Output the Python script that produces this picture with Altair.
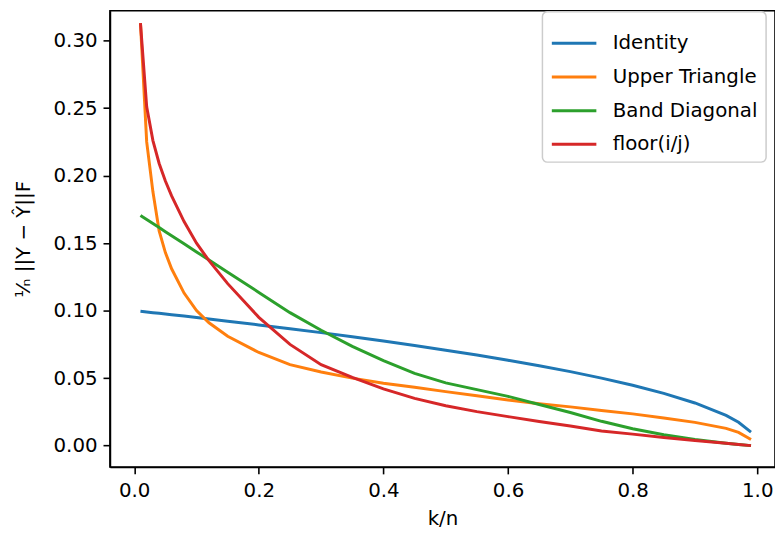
import altair as alt
import pandas as pd

k_over_n = [0.01, 0.02, 0.03, 0.04, 0.05, 0.06, 0.08, 0.10, 0.12, 0.15, 0.20, 0.25,
            0.30, 0.35, 0.40, 0.45, 0.50, 0.55, 0.60, 0.65, 0.70, 0.75, 0.80, 0.85,
            0.90, 0.95, 0.97, 0.99]

identity = [0.0995, 0.0990, 0.0985, 0.0980, 0.0975, 0.0970, 0.0960, 0.0949, 0.0938,
            0.0922, 0.0894, 0.0866, 0.0837, 0.0806, 0.0775, 0.0742, 0.0707, 0.0671,
            0.0632, 0.0592, 0.0548, 0.0500, 0.0447, 0.0387, 0.0316, 0.0224, 0.0173,
            0.0100]

upper_triangle = [0.313, 0.225, 0.188, 0.159, 0.143, 0.131, 0.113, 0.100, 0.091,
                  0.081, 0.069, 0.060, 0.0545, 0.050, 0.0462, 0.0432, 0.040, 0.037,
                  0.0338, 0.031, 0.0287, 0.026, 0.0235, 0.0205, 0.0172, 0.0128,
                  0.0098, 0.0045]

band_diagonal = [0.1705, 0.1675, 0.1645, 0.1615, 0.1585, 0.1555, 0.1495, 0.1435,
                 0.1375, 0.1285, 0.1135, 0.0985, 0.0855, 0.0735, 0.063, 0.0535,
                 0.0465, 0.0415, 0.0365, 0.0305, 0.0245, 0.018, 0.0125, 0.008,
                 0.0045, 0.0018, 0.0008, 0.0]

floor_ij = [0.313, 0.251, 0.226, 0.209, 0.196, 0.185, 0.166, 0.150, 0.137, 0.120,
            0.095, 0.075, 0.060, 0.0505, 0.042, 0.035, 0.0295, 0.0252, 0.0215,
            0.0178, 0.0145, 0.0108, 0.0085, 0.006, 0.0038, 0.0017, 0.0009, 0.0]

series_names = ["Identity", "Upper Triangle", "Band Diagonal", "floor(i/j)"]
series_colors = ["#1f77b4", "#ff7f0e", "#2ca02c", "#d62728"]
series_values = [identity, upper_triangle, band_diagonal, floor_ij]

rows = []
for name, vals in zip(series_names, series_values):
    for x, y in zip(k_over_n, vals):
        rows.append({"k/n": x, "err": y, "method": name})
df = pd.DataFrame(rows)

FONT = "DejaVu Sans"

chart = alt.Chart(df).mark_line(strokeWidth=3, clip=True).encode(
    x=alt.X("k/n:Q",
            scale=alt.Scale(domain=[-0.039, 1.0285], nice=False, zero=False),
            axis=alt.Axis(title="k/n", values=[0.0, 0.2, 0.4, 0.6, 0.8, 1.0],
                          format=".1f", titlePadding=8, labelPadding=7)),
    y=alt.Y("err:Q",
            scale=alt.Scale(domain=[-0.0158, 0.3222], nice=False, zero=False),
            axis=alt.Axis(title="¹⁄ₙ ||Y − Ŷ||F",
                          values=[0.0, 0.05, 0.10, 0.15, 0.20, 0.25, 0.30],
                          format=".2f", titlePadding=20, labelPadding=6)),
    color=alt.Color("method:N",
                    scale=alt.Scale(domain=series_names, range=series_colors),
                    sort=series_names,
                    legend=alt.Legend(title=None, orient="none",
                                      legendX=437, legendY=1)),
    order=alt.value(0),
).properties(
    width=672,
    height=461,
    autosize=alt.AutoSizeParams(type="none"),
    padding={"left": 103, "top": 0, "right": 0, "bottom": 62},
).configure_view(
    stroke="black", strokeWidth=1.6
).configure_axis(
    domainColor="black", domainWidth=1.6,
    tickColor="black", tickWidth=1.6, tickSize=7,
    labelFont=FONT, labelFontSize=20, labelColor="black",
    titleFont=FONT, titleFontSize=20, titleColor="black", titleFontWeight="normal",
    grid=False,
).configure_legend(
    labelFont=FONT, labelFontSize=20, labelColor="black",
    symbolType="stroke", symbolStrokeWidth=3, symbolSize=2025,
    labelOffset=15, rowPadding=-3.5,
    fillColor="white", strokeColor="#cccccc", strokeWidth=1.5,
    cornerRadius=5, padding=8,
)

chart.save("out.html", embed_options={"renderer": "svg", "actions": False})
